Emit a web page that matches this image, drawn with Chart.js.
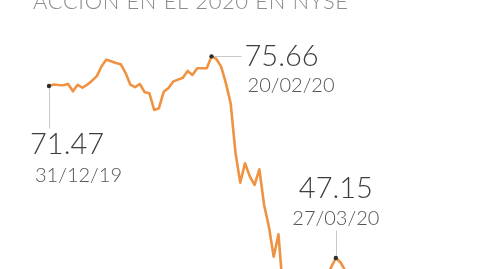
<!DOCTYPE html>
<html>
<head>
<meta charset="utf-8">
<script src="https://cdn.jsdelivr.net/npm/chart.js@4/dist/chart.umd.min.js"></script>
<style>
  html, body { margin: 0; padding: 0; background: #ffffff; overflow: hidden; }
  #wrap { width: 480px; height: 269px; position: relative; }
</style>
</head>
<body>
<div id="wrap"><canvas id="chart" width="480" height="269"></canvas></div>
<script>
// Cierre diario de la acción (USD), sesiones del NYSE
const titleText = 'ACCIÓN EN EL 2020 EN NYSE';

const dates = [
  '31/12/19',
  '02/01/20','03/01/20','06/01/20','07/01/20','08/01/20','09/01/20','10/01/20',
  '13/01/20','14/01/20','15/01/20','16/01/20','17/01/20','21/01/20','22/01/20',
  '23/01/20','24/01/20','27/01/20','28/01/20','29/01/20','30/01/20','31/01/20',
  '03/02/20','04/02/20','05/02/20','06/02/20','07/02/20','10/02/20','11/02/20',
  '12/02/20','13/02/20','14/02/20','18/02/20','19/02/20','20/02/20',
  '21/02/20','24/02/20','25/02/20','26/02/20','27/02/20','28/02/20',
  '02/03/20','03/03/20','04/03/20','05/03/20','06/03/20',
  '09/03/20','10/03/20','11/03/20','12/03/20','13/03/20',
  '16/03/20','17/03/20','18/03/20','19/03/20','20/03/20',
  '23/03/20','24/03/20','25/03/20','26/03/20','27/03/20',
  '30/03/20','31/03/20'
];

const prices = [
  71.47,
  71.68, 71.60, 71.58, 71.75, 70.72, 71.64, 71.22,
  71.65, 72.22, 72.87, 74.26, 75.20, 74.96, 74.73,
  74.55, 73.34, 71.67, 71.30, 71.75, 70.59, 70.44,
  68.08, 68.33, 70.66, 71.19, 72.12, 72.37, 72.63,
  73.60, 73.03, 73.97, 73.97, 73.97, 75.66,
  75.29, 74.21, 71.88, 69.00, 62.08, 57.80,
  60.54, 58.69, 57.47, 59.69, 54.64,
  51.57, 47.33, 50.50, 42.00, 40.60,
  41.90, 39.20, 40.80, 38.10, 39.70,
  41.50, 43.20, 44.10, 45.81, 47.15,
  46.51, 45.30
];

// Sesiones destacadas con su cierre y fecha
const highlighted = [0, 34, 60];

const LINE_COLOR = '#ef9241';
const DOT_COLOR = '#2e2e2e';
const LEADER_COLOR = '#c9c9c9';
const VALUE_COLOR = '#3d3d3d';
const DATE_COLOR = '#555555';
const FONT = 'Lato, "Open Sans", sans-serif';

// Posición de cada rótulo respecto a su punto
const calloutLayout = {
  0:  { leader: [0, 42],  valueAt: [-19, 68], dateAt: [-14, 96], align: 'left' },
  34: { leader: [29, 0],  valueAt: [33, 10],  dateAt: [36, 36],  align: 'left' },
  60: { leader: [0, -28], valueAt: [0, -60],  dateAt: [0, -33],  align: 'center' }
};

function fitText(ctx, text, x, y, font, width) {
  ctx.font = font;
  ctx.letterSpacing = '0px';
  const w = ctx.measureText(text).width;
  if (width) {
    const ls = (width - w) / (text.length - 1);
    ctx.letterSpacing = ls.toFixed(2) + 'px';
  }
  ctx.fillText(text, x, y);
  ctx.letterSpacing = '0px';
}

const calloutPlugin = {
  id: 'callouts',
  afterDraw(chart) {
    const ctx = chart.ctx;
    const xs = chart.scales.x, ys = chart.scales.y;
    ctx.save();

    // Título (recortado por el borde superior)
    ctx.fillStyle = '#8c8c8c';
    ctx.textBaseline = 'alphabetic';
    ctx.textAlign = 'left';
    fitText(ctx, titleText, 33, 9, '300 22px ' + FONT, 315);

    highlighted.forEach(i => {
      const L = calloutLayout[i];
      const px = xs.getPixelForValue(i);
      const py = ys.getPixelForValue(prices[i]);

      ctx.strokeStyle = LEADER_COLOR;
      ctx.lineWidth = 1;
      ctx.beginPath();
      ctx.moveTo(Math.round(px) + 0.5, Math.round(py) + 0.5);
      ctx.lineTo(Math.round(px + L.leader[0]) + 0.5, Math.round(py + L.leader[1]) + 0.5);
      ctx.stroke();

      ctx.fillStyle = DOT_COLOR;
      ctx.beginPath();
      ctx.arc(px, py, 2.2, 0, Math.PI * 2);
      ctx.fill();

      ctx.textAlign = L.align;
      ctx.textBaseline = 'alphabetic';
      ctx.fillStyle = VALUE_COLOR;
      ctx.font = '300 29px ' + FONT;
      ctx.fillText(prices[i].toFixed(2), px + L.valueAt[0], py + L.valueAt[1]);
      ctx.fillStyle = DATE_COLOR;
      ctx.font = '300 20px ' + FONT;
      ctx.fillText(dates[i], px + L.dateAt[0], py + L.dateAt[1]);
    });
    ctx.restore();
  }
};

new Chart(document.getElementById('chart'), {
  type: 'line',
  data: {
    labels: dates,
    datasets: [{
      data: prices,
      borderColor: LINE_COLOR,
      borderWidth: 2.6,
      borderJoinStyle: 'round',
      borderCapStyle: 'round',
      pointRadius: 0,
      tension: 0,
      fill: false
    }]
  },
  options: {
    responsive: false,
    animation: false,
    devicePixelRatio: 1,
    layout: { padding: { left: 49, right: 134.6, top: 0, bottom: 0 } },
    plugins: { legend: { display: false }, tooltip: { enabled: false }, title: { display: false } },
    scales: {
      x: { type: 'category', display: false, offset: false },
      y: { type: 'linear', display: false, min: 45.59, max: 83.63 }
    }
  },
  plugins: [calloutPlugin]
});
</script>
</body>
</html>
